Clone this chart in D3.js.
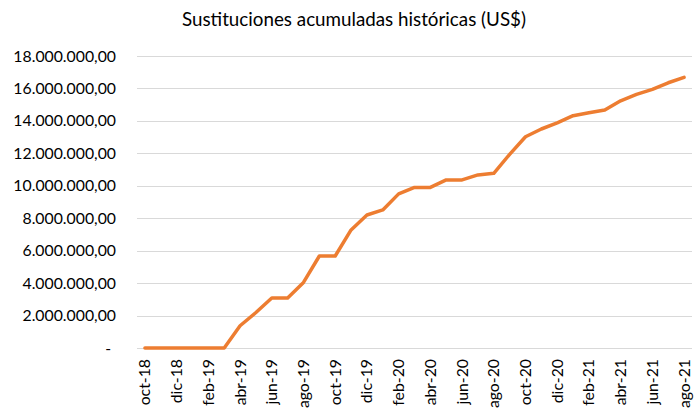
<!DOCTYPE html>
<html>
<head>
<meta charset="utf-8">
<script src="https://cdn.jsdelivr.net/npm/d3@7"></script>
<style>
  body { margin: 0; background: #fff; }
  text { font-family: Lato, "Open Sans", sans-serif; fill: #000; }
</style>
</head>
<body>
<div id="chart"></div>
<script>
// months shown on the category axis (one point per month)
var months = ["oct-18","nov-18","dic-18","ene-19","feb-19","mar-19","abr-19","may-19","jun-19","jul-19",
              "ago-19","sep-19","oct-19","nov-19","dic-19","ene-20","feb-20","mar-20","abr-20","may-20",
              "jun-20","jul-20","ago-20","sep-20","oct-20","nov-20","dic-20","ene-21","feb-21","mar-21",
              "abr-21","may-21","jun-21","jul-21","ago-21"];

// accumulated substitutions, US$
var values = [0, 0, 0, 0, 0, 0, 1370000, 2190000, 3080000, 3080000,
              4040000, 5670000, 5670000, 7280000, 8200000, 8510000, 9500000, 9900000, 9900000, 10360000,
              10360000, 10670000, 10770000, 11940000, 13020000, 13500000, 13880000, 14320000, 14500000, 14670000,
              15240000, 15630000, 15940000, 16350000, 16680000];

var yTicks = [0, 2000000, 4000000, 6000000, 8000000, 10000000, 12000000, 14000000, 16000000, 18000000];

var title = "Sustituciones acumuladas históricas (US$)";

var W = 694, H = 408;
var margin = {left: 137, right: 2, top: 56, bottom: 60};

var svg = d3.select("#chart").append("svg")
    .attr("width", W)
    .attr("height", H);

var x = d3.scaleBand()
    .domain(months)
    .range([margin.left, W - margin.right]);

var y = d3.scaleLinear()
    .domain([0, 18000000])
    .range([H - margin.bottom, margin.top]);

// es-style number format: 18.000.000,00
var es = d3.formatLocale({decimal: ",", thousands: ".", grouping: [3], currency: ["", ""]});
var fmt = es.format(",.2f");

// gridlines
svg.append("g")
  .selectAll("line")
  .data(yTicks)
  .enter().append("line")
    .attr("x1", margin.left)
    .attr("x2", W - margin.right)
    .attr("y1", function(d) { return Math.round(y(d)) + 0.5; })
    .attr("y2", function(d) { return Math.round(y(d)) + 0.5; })
    .attr("stroke", "#d9d9d9")
    .attr("stroke-width", 1);

// y axis labels
var yAxis = d3.axisLeft(y)
    .tickValues(yTicks)
    .tickSize(0)
    .tickPadding(21)
    .tickFormat(function(d) { return d === 0 ? "-" : fmt(d); });

svg.append("g")
    .attr("transform", "translate(" + margin.left + ",0)")
    .call(yAxis)
    .call(function(g) { g.select(".domain").remove(); })
    .selectAll("text")
      .style("font-size", "15.8px")
      .attr("dx", function(d) { return d === 0 ? "-5" : "0"; });

// x axis labels, every other month, rotated
var xAxis = d3.axisBottom(x)
    .tickValues(months.filter(function(d, i) { return i % 2 === 0; }))
    .tickSize(0);

svg.append("g")
    .attr("transform", "translate(0," + (H - margin.bottom) + ")")
    .call(xAxis)
    .call(function(g) { g.select(".domain").remove(); })
    .selectAll("text")
      .style("font-size", "15.8px")
      .attr("text-anchor", "end")
      .attr("transform", "rotate(-90)")
      .attr("x", -11)
      .attr("y", 0)
      .attr("dy", "0.35em");

// line
var line = d3.line()
    .x(function(d, i) { return x(months[i]) + x.bandwidth() / 2; })
    .y(function(d) { return y(d); });

svg.append("path")
    .datum(values)
    .attr("fill", "none")
    .attr("stroke", "#ED7D31")
    .attr("stroke-width", 3.5)
    .attr("stroke-linejoin", "round")
    .attr("stroke-linecap", "round")
    .attr("d", line);

// title
svg.append("text")
    .attr("x", 354)
    .attr("y", 26)
    .attr("text-anchor", "middle")
    .style("font-size", "18.8px")
    .text(title);
</script>
</body>
</html>
